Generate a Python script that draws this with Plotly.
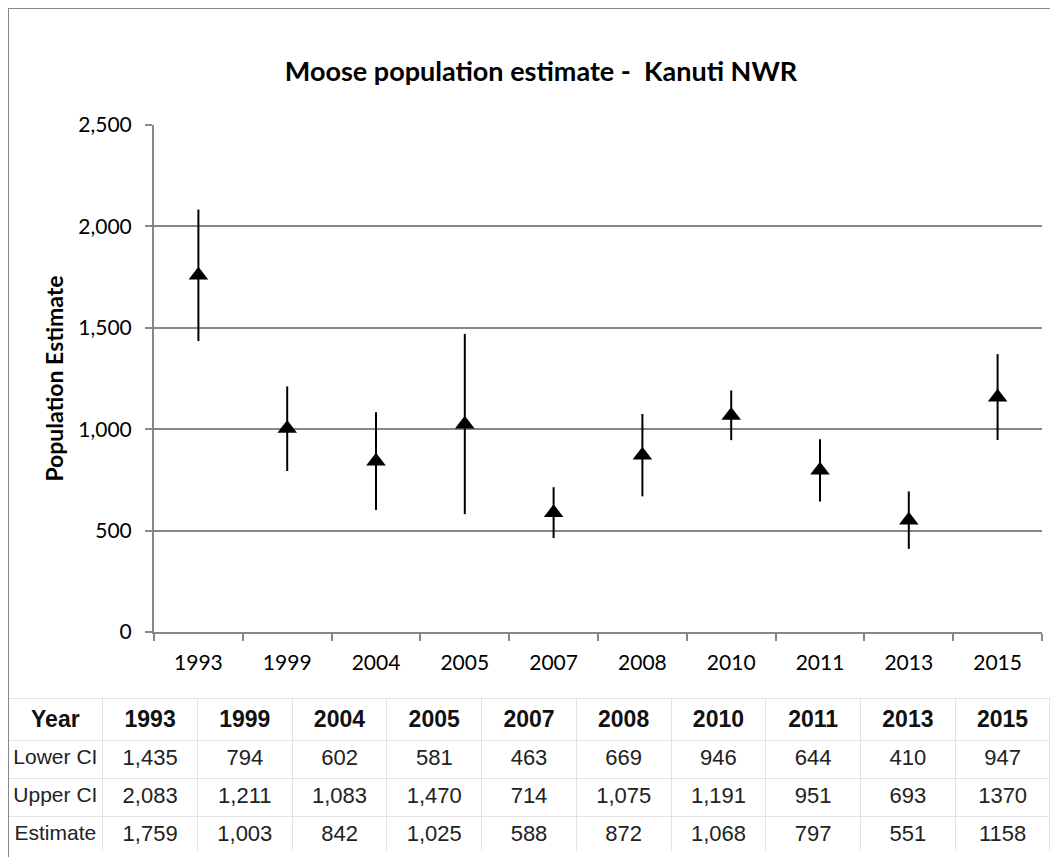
import plotly.graph_objects as go

years = ["1993", "1999", "2004", "2005", "2007", "2008", "2010", "2011", "2013", "2015"]
lower_ci = [1435, 794, 602, 581, 463, 669, 946, 644, 410, 947]
upper_ci = [2083, 1211, 1083, 1470, 714, 1075, 1191, 951, 693, 1370]
estimate = [1759, 1003, 842, 1025, 588, 872, 1068, 797, 551, 1158]
row_labels = ["Lower CI", "Upper CI", "Estimate"]
y_ticks = [0, 500, 1000, 1500, 2000, 2500]

# page body margin of 8px: figure occupies 8..1050 x 8..857 of the window
OFF = 8
W, H = 1058 - 2 * OFF, 865 - 2 * OFF

def fx(px):
    return max(0.0, min(1.0, (px - OFF) / W))

def fy(py):
    return max(0.0, min(1.0, 1 - (py - OFF) / H))

plot_l, plot_r, plot_t, plot_b = 154, 1042, 125, 632
tab_l, tab_r, tab_t, tab_b = 7, 1058, 698, 852

def fmt(v, yr):
    # 2015 column is printed without thousands separator in the reference
    return str(v) if yr == "2015" else f"{v:,}"

err_plus = [u - e for u, e in zip(upper_ci, estimate)]
err_minus = [e - l for e, l in zip(estimate, lower_ci)]

fig = go.Figure()
fig.add_trace(go.Scatter(
    x=years, y=estimate, mode="markers",
    marker=dict(symbol="triangle-up", size=17, color="black"),
    error_y=dict(type="data", symmetric=False, array=err_plus, arrayminus=err_minus,
                 color="black", thickness=2, width=0),
    showlegend=False, cliponaxis=False,
))

table_cols = [[lab.replace(" ", "\u00a0") for lab in row_labels]] + [
    [fmt(lower_ci[i], y), fmt(upper_ci[i], y), fmt(estimate[i], y)]
    for i, y in enumerate(years)
]
tfont = "Liberation Sans, Arial"
fig.add_trace(go.Table(
    domain=dict(x=[fx(tab_l), fx(tab_r)], y=[fy(tab_b), fy(tab_t)]),
    columnwidth=[1] * 11,
    header=dict(values=["<b>Year</b>"] + [f"<b>{y}</b>" for y in years],
                align="center", height=39, fill_color="white",
                line=dict(color="#e3e3e3", width=1),
                font=dict(family=tfont, size=23, color="#111111")),
    cells=dict(values=table_cols, align="center", height=38, fill_color="white",
               line=dict(color="#e3e3e3", width=1),
               font=dict(family=tfont, size=[21] + [22] * 10, color="#222222")),
))

gray = "#878787"
fig.update_layout(
    width=W, height=H, autosize=False,
    margin=dict(l=0, r=0, t=0, b=0, autoexpand=False),
    paper_bgcolor="white", plot_bgcolor="white",
    font=dict(family="Lato, Open Sans, sans-serif", color="black"),
    title=dict(text="<b>Moose population estimate -  Kanuti NWR</b>",
               x=fx(541), xanchor="center", y=fy(72), yanchor="middle",
               yref="container", automargin=False, font=dict(size=27, color="black")),
    xaxis=dict(domain=[fx(plot_l), fx(plot_r)], type="category", range=[-0.5, 9.5],
               automargin=False,
               showline=True, linecolor=gray, linewidth=2,
               ticks="outside", tickson="boundaries", ticklen=7, tickcolor=gray, tickwidth=2,
               showgrid=False, tickfont=dict(size=21, color="black"), ticklabelstandoff=11,
               fixedrange=True),
    yaxis=dict(domain=[fy(plot_b), fy(plot_t)], range=[0, 2500], automargin=False,
               tickvals=y_ticks, tickformat=",",
               showline=True, linecolor=gray, linewidth=2,
               ticks="outside", ticklen=7, tickcolor=gray, tickwidth=2,
               showgrid=True, gridcolor=gray, gridwidth=1.5, zeroline=False,
               tickfont=dict(size=21, color="black"), ticklabelstandoff=9,
               title=dict(text="<b>Population Estimate</b>", font=dict(size=23), standoff=8)),
    shapes=[
        dict(type="line", xref="paper", yref="paper", x0=fx(7), x1=1, y0=fy(4), y1=fy(4),
             line=dict(color=gray, width=2)),
        dict(type="line", xref="paper", yref="paper", x0=fx(7), x1=fx(7), y0=0, y1=fy(4),
             line=dict(color=gray, width=2)),
    ],
)

fig.write_html("out.html")
